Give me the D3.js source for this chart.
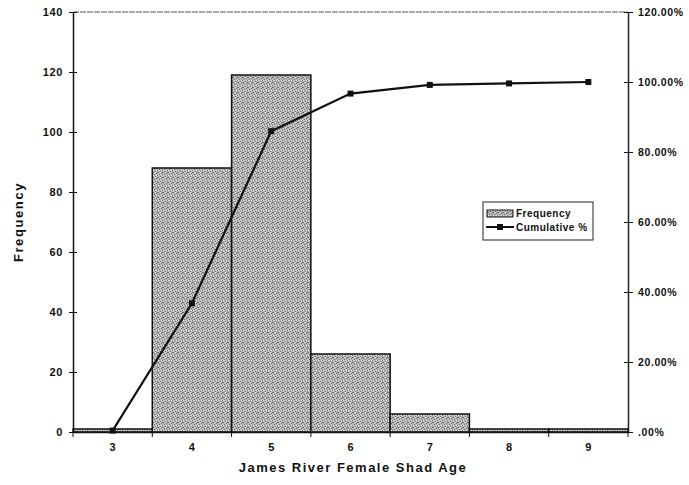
<!DOCTYPE html>
<html>
<head>
<meta charset="utf-8">
<script src="https://cdn.jsdelivr.net/npm/d3@7"></script>
<style>
  body { margin: 0; background: #fff; }
  svg text { font-family: "Liberation Sans", Arial, sans-serif; font-weight: bold; fill: #111; }
</style>
</head>
<body>
<div id="chart"></div>
<script>
// Data
const ages = ["3", "4", "5", "6", "7", "8", "9"];
const frequency = [1, 88, 119, 26, 6, 1, 1];
const cumulativePct = [0.41, 36.78, 85.95, 96.69, 99.17, 99.59, 100];
const leftTicks = [0, 20, 40, 60, 80, 100, 120, 140];
const rightTicks = [0, 20, 40, 60, 80, 100, 120];

const width = 689, height = 485;
const margin = {top: 12, right: 61, bottom: 53, left: 73};
const innerW = width - margin.left - margin.right;
const innerH = height - margin.top - margin.bottom;

const svg = d3.select("#chart").append("svg")
    .attr("width", width)
    .attr("height", height);

// stipple pattern for the bars
const defs = svg.append("defs");
const pat = defs.append("pattern")
    .attr("id", "stipple")
    .attr("width", 5).attr("height", 5)
    .attr("patternUnits", "userSpaceOnUse");
pat.append("rect").attr("width", 5).attr("height", 5).attr("fill", "#b9b9b9");
[[0, 0], [3, 1], [1, 2], [4, 3], [2, 4], [4, 0]].forEach(([px, py]) => {
    pat.append("rect").attr("x", px).attr("y", py).attr("width", 1).attr("height", 1).attr("fill", "#6e6e6e");
});
[[2, 0], [0, 3], [3, 3]].forEach(([px, py]) => {
    pat.append("rect").attr("x", px).attr("y", py).attr("width", 1).attr("height", 1).attr("fill", "#e6e6e6");
});

const chart = svg.append("g")
    .attr("transform", `translate(${margin.left},${margin.top})`);

const x = d3.scaleBand()
    .domain(ages)
    .range([0, innerW])
    .padding(0);

const yLeft = d3.scaleLinear()
    .domain([0, 140])
    .range([innerH, 0]);

const yRight = d3.scaleLinear()
    .domain([0, 120])
    .range([innerH, 0]);

// Top border
chart.append("line")
    .attr("x1", 0).attr("x2", innerW)
    .attr("y1", 0).attr("y2", 0)
    .attr("stroke", "#555")
    .attr("stroke-width", 1.2)
    .attr("stroke-dasharray", "6,1");

// Bars
chart.selectAll("rect.bar")
    .data(frequency)
    .join("rect")
    .attr("class", "bar")
    .attr("x", (d, i) => x(ages[i]))
    .attr("y", d => yLeft(d))
    .attr("width", x.bandwidth())
    .attr("height", d => innerH - yLeft(d))
    .attr("fill", "url(#stipple)")
    .attr("stroke", "#111")
    .attr("stroke-width", 1.5);

// Left axis
const leftAxis = chart.append("g")
    .call(d3.axisLeft(yLeft).tickValues(leftTicks).tickSize(0).tickPadding(10));
leftAxis.select(".domain").attr("stroke", "#111").attr("stroke-width", 1.5);
leftAxis.selectAll("text").attr("font-size", 11).style("letter-spacing", "0.6px");
leftAxis.selectAll(".tick").append("line")
    .attr("x1", -4).attr("x2", 4)
    .attr("stroke", "#111");

// Right axis
const rightAxis = chart.append("g")
    .attr("transform", `translate(${innerW},0)`)
    .call(d3.axisRight(yRight).tickValues(rightTicks).tickSize(0).tickPadding(10)
        .tickFormat(d => d === 0 ? ".00%" : d.toFixed(2) + "%"));
rightAxis.select(".domain").attr("stroke", "#222").attr("stroke-width", 1.5);
rightAxis.selectAll("text").attr("font-size", 10.5).style("letter-spacing", "0.6px");
rightAxis.selectAll(".tick").append("line")
    .attr("x1", -4).attr("x2", 5)
    .attr("stroke", "#111");

// Bottom axis
const bottomAxis = chart.append("g")
    .attr("transform", `translate(0,${innerH})`)
    .call(d3.axisBottom(x).tickSize(0).tickPadding(11));
bottomAxis.select(".domain").attr("stroke", "#111").attr("stroke-width", 1.5);
bottomAxis.selectAll("text").attr("font-size", 11);
chart.append("g")
    .attr("transform", `translate(0,${innerH})`)
    .selectAll("line")
    .data(d3.range(ages.length + 1))
    .join("line")
    .attr("x1", i => i * x.step()).attr("x2", i => i * x.step())
    .attr("y1", 0).attr("y2", 5)
    .attr("stroke", "#111");

// Cumulative line
const line = d3.line()
    .x((d, i) => x(ages[i]) + x.bandwidth() / 2)
    .y(d => yRight(d));

chart.append("path")
    .datum(cumulativePct)
    .attr("fill", "none")
    .attr("stroke", "#111")
    .attr("stroke-width", 2.2)
    .attr("d", line);

chart.selectAll("rect.marker")
    .data(cumulativePct)
    .join("rect")
    .attr("class", "marker")
    .attr("x", (d, i) => x(ages[i]) + x.bandwidth() / 2 - 3)
    .attr("y", d => yRight(d) - 3)
    .attr("width", 6)
    .attr("height", 6)
    .attr("fill", "#111");

// Axis titles
svg.append("text")
    .attr("transform", `translate(23,${margin.top + innerH / 2}) rotate(-90)`)
    .attr("text-anchor", "middle")
    .attr("font-size", 13)
    .style("letter-spacing", "1.6px")
    .text("Frequency");

svg.append("text")
    .attr("x", 353)
    .attr("y", 472)
    .attr("text-anchor", "middle")
    .attr("font-size", 13)
    .style("letter-spacing", "1.5px")
    .text("James River Female Shad Age");

// Legend
const legend = svg.append("g")
    .attr("transform", "translate(483,202)");
legend.append("rect")
    .attr("width", 110).attr("height", 38)
    .attr("fill", "#fff")
    .attr("stroke", "#222")
    .attr("stroke-width", 1);
legend.append("rect")
    .attr("x", 4).attr("y", 8)
    .attr("width", 26).attr("height", 7)
    .attr("fill", "url(#stipple)")
    .attr("stroke", "#111");
legend.append("text")
    .attr("x", 33).attr("y", 15)
    .attr("font-size", 10)
    .style("letter-spacing", "0.5px")
    .text("Frequency");
legend.append("line")
    .attr("x1", 3).attr("x2", 31)
    .attr("y1", 25).attr("y2", 25)
    .attr("stroke", "#111").attr("stroke-width", 2);
legend.append("rect")
    .attr("x", 14).attr("y", 22)
    .attr("width", 6).attr("height", 6)
    .attr("fill", "#111");
legend.append("text")
    .attr("x", 33).attr("y", 29)
    .attr("font-size", 10)
    .style("letter-spacing", "0.5px")
    .text("Cumulative %");
</script>
</body>
</html>
